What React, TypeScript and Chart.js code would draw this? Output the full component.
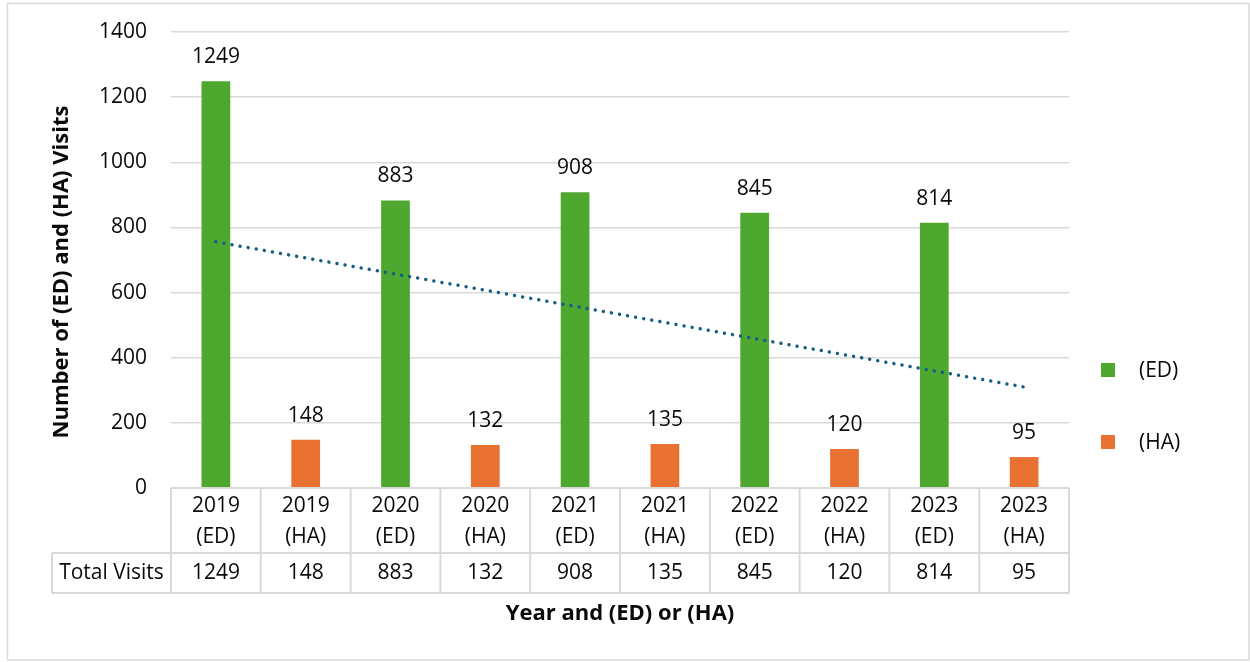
import { useEffect, useRef } from "react";
import { Chart, registerables } from "chart.js";

Chart.register(...registerables);

// Visits per year, split into Emergency Department (ED) and Hospital Admission (HA)
const years = ["2019", "2020", "2021", "2022", "2023"];
const edVisits = [1249, 883, 908, 845, 814];
const haVisits = [148, 132, 135, 120, 95];
const edTag = "(ED)";
const haTag = "(HA)";
const yTicks = [0, 200, 400, 600, 800, 1000, 1200, 1400];
const rowHeader = "Total Visits";
const xTitle = "Year and (ED) or (HA)";
const yTitle = "Number of (ED) and (HA) Visits";

const ED_COLOR = "#4EA72E";
const HA_COLOR = "#E97132";
const TREND_COLOR = "#156082";
const GRID_COLOR = "#d9d9d9";
const TEXT_COLOR = "#0a0a0a";
const FONT = "'Open Sans', 'Noto Sans', sans-serif";
const FONT_SIZE = 21;

// Interleave the two series: 2019 (ED), 2019 (HA), 2020 (ED), ...
const categoryYears: string[] = [];
const categoryTags: string[] = [];
const totals: number[] = [];
const edSeries: (number | null)[] = [];
const haSeries: (number | null)[] = [];
years.forEach((y, i) => {
  categoryYears.push(y, y);
  categoryTags.push(edTag, haTag);
  totals.push(edVisits[i], haVisits[i]);
  edSeries.push(edVisits[i], null);
  haSeries.push(null, haVisits[i]);
});

// Linear least-squares trendline across all ten categories
function linearTrend(values: number[]): number[] {
  const n = values.length;
  const xs = values.map((_, i) => i + 1);
  const mx = xs.reduce((a, b) => a + b, 0) / n;
  const my = values.reduce((a, b) => a + b, 0) / n;
  let sxy = 0;
  let sxx = 0;
  xs.forEach((x, i) => {
    sxy += (x - mx) * (values[i] - my);
    sxx += (x - mx) * (x - mx);
  });
  const slope = sxy / sxx;
  return xs.map((x) => my + slope * (x - mx));
}
const trendSeries = linearTrend(totals);

const chartDecor = {
  id: "chartDecor",
  beforeDraw(chart: any) {
    const { ctx, width, height } = chart;
    ctx.save();
    ctx.fillStyle = "#ffffff";
    ctx.fillRect(0, 0, width, height);
    ctx.strokeStyle = GRID_COLOR;
    ctx.lineWidth = 1.5;
    ctx.strokeRect(7.5, 3.5, width - 8.5, height - 5.5);
    ctx.restore();
  },
  afterDraw(chart: any) {
    const { ctx, chartArea } = chart;
    const { left, right, bottom } = chartArea;
    const n = categoryYears.length;
    const colW = (right - left) / n;
    const headerBottom = bottom + 65;
    const tableBottom = bottom + 105;
    const rowLeft = 52;

    ctx.save();
    // table grid
    ctx.strokeStyle = GRID_COLOR;
    ctx.lineWidth = 2;
    ctx.beginPath();
    ctx.moveTo(left, bottom);
    ctx.lineTo(right, bottom);
    ctx.moveTo(rowLeft, headerBottom);
    ctx.lineTo(right, headerBottom);
    ctx.moveTo(rowLeft, tableBottom);
    ctx.lineTo(right, tableBottom);
    for (let i = 0; i <= n; i++) {
      const x = left + i * colW;
      ctx.moveTo(x, bottom);
      ctx.lineTo(x, tableBottom);
    }
    ctx.moveTo(rowLeft, headerBottom);
    ctx.lineTo(rowLeft, tableBottom);
    ctx.stroke();

    // table text
    ctx.fillStyle = TEXT_COLOR;
    ctx.font = `${FONT_SIZE}px ${FONT}`;
    ctx.textAlign = "center";
    ctx.textBaseline = "middle";
    for (let i = 0; i < n; i++) {
      const cx = left + (i + 0.5) * colW;
      ctx.fillText(categoryYears[i], cx, bottom + 18);
      ctx.fillText(categoryTags[i], cx, bottom + 49);
      ctx.fillText(String(totals[i]), cx, headerBottom + 20);
    }
    ctx.fillText(rowHeader, (rowLeft + left) / 2, headerBottom + 20);

    // value labels above the bars
    [0, 1].forEach((di) => {
      const meta = chart.getDatasetMeta(di);
      const data = chart.data.datasets[di].data;
      meta.data.forEach((bar: any, i: number) => {
        const v = data[i];
        if (v == null) return;
        ctx.fillText(String(v), bar.x, bar.y - 24);
      });
    });

    // axis titles
    ctx.font = `bold 22px ${FONT}`;
    ctx.fillText(xTitle, 620, 614);
    ctx.save();
    ctx.translate(62, 272);
    ctx.rotate(-Math.PI / 2);
    ctx.fillText(yTitle, 0, 0);
    ctx.restore();

    // legend
    ctx.font = `${FONT_SIZE}px ${FONT}`;
    ctx.textAlign = "left";
    const legend = [
      { label: edTag, color: ED_COLOR, y: 370 },
      { label: haTag, color: HA_COLOR, y: 442 },
    ];
    legend.forEach((item) => {
      ctx.fillStyle = item.color;
      ctx.fillRect(1101, item.y - 7, 14, 14);
      ctx.fillStyle = TEXT_COLOR;
      ctx.fillText(item.label, 1139, item.y + 1);
    });
    ctx.restore();
  },
};

export default function App() {
  const canvasRef = useRef<HTMLCanvasElement | null>(null);

  useEffect(() => {
    const canvas = canvasRef.current;
    if (!canvas) return;
    const labels = categoryYears.map((y, i) => `${y} ${categoryTags[i]}`);
    const chart = new Chart(canvas, {
      type: "bar",
      data: {
        labels,
        datasets: [
          {
            type: "bar",
            label: edTag,
            data: edSeries,
            backgroundColor: ED_COLOR,
            grouped: false,
            categoryPercentage: 1,
            barPercentage: 0.32,
            order: 2,
          } as any,
          {
            type: "bar",
            label: haTag,
            data: haSeries,
            backgroundColor: HA_COLOR,
            grouped: false,
            categoryPercentage: 1,
            barPercentage: 0.32,
            order: 2,
          } as any,
          {
            type: "line",
            label: "Linear trend",
            data: trendSeries,
            borderColor: TREND_COLOR,
            borderWidth: 3.5,
            borderDash: [0.001, 8.2],
            borderCapStyle: "round",
            pointRadius: 0,
            fill: false,
            order: 0,
          } as any,
        ],
      },
      options: {
        responsive: false,
        animation: false,
        layout: { padding: { top: 32, right: 181, bottom: 174, left: 0 } },
        plugins: {
          legend: { display: false },
          tooltip: { enabled: false },
        },
        scales: {
          x: {
            display: false,
          },
          y: {
            min: 0,
            max: 1400,
            afterBuildTicks: (scale: any) => {
              scale.ticks = yTicks.map((v) => ({ value: v }));
            },
            afterFit: (scale: any) => {
              scale.width = 171;
              scale.paddingTop = 0;
              scale.paddingBottom = 0;
            },
            border: { display: false },
            grid: { color: GRID_COLOR, lineWidth: 1.5, drawTicks: false },
            ticks: {
              padding: 24,
              color: TEXT_COLOR,
              font: { family: FONT, size: FONT_SIZE },
              callback: (v: any) => String(v),
            },
          },
        },
      },
      plugins: [chartDecor],
    });
    return () => chart.destroy();
  }, []);

  return (
    <div style={{ position: "fixed", left: 0, top: 0, width: 1250, height: 662 }}>
      <canvas ref={canvasRef} width={1250} height={662} />
    </div>
  );
}
